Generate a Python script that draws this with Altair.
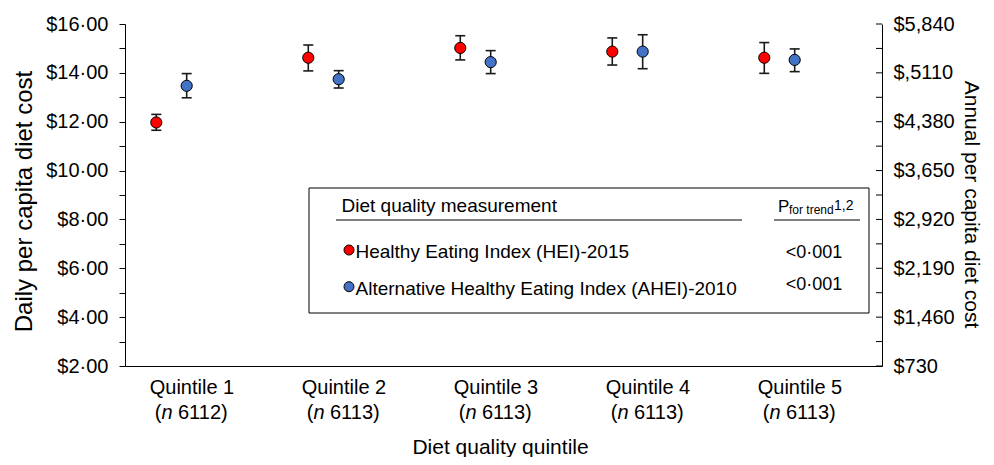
import altair as alt
import pandas as pd

# ---------------- data ----------------
quintiles = [1, 2, 3, 4, 5]
quintile_labels = ["Quintile 1", "Quintile 2", "Quintile 3", "Quintile 4", "Quintile 5"]
quintile_n = ["6112", "6113", "6113", "6113", "6113"]
series_names = ["HEI-2015", "AHEI-2010"]
legend_labels = ["Healthy Eating Index (HEI)-2015",
                 "Alternative Healthy Eating Index (AHEI)-2010"]
p_values = ["<0·001", "<0·001"]

hei_mean = [11.97, 14.62, 15.02, 14.87, 14.62]
hei_lower = [11.65, 14.08, 14.53, 14.32, 13.98]
hei_upper = [12.30, 15.14, 15.52, 15.43, 15.24]

ahei_mean = [13.47, 13.74, 14.44, 14.87, 14.53]
ahei_lower = [12.98, 13.38, 13.97, 14.17, 14.05]
ahei_upper = [13.97, 14.09, 14.91, 15.56, 14.98]

y_ticks = list(range(2, 17))
y_major = list(range(2, 17, 2))

# ---------------- style ----------------
series_colors = ["#FF0000", "#4472C4"]
offsets = {series_names[0]: -0.235, series_names[1]: -0.035}
W, H = 757, 342
FONT = "Liberation Sans"

rows = []
for i, q in enumerate(quintiles):
    rows.append(dict(q=q, series=series_names[0], mean=hei_mean[i],
                     lower=hei_lower[i], upper=hei_upper[i]))
    rows.append(dict(q=q, series=series_names[1], mean=ahei_mean[i],
                     lower=ahei_lower[i], upper=ahei_upper[i]))
df = pd.DataFrame(rows)
df["pos"] = df["q"] + df["series"].map(offsets)

xs = alt.Scale(domain=[0.5592, 5.5395], nice=False, zero=False)
ys = alt.Scale(domain=[2, 16], nice=False, zero=False)

x_axis = alt.Axis(title="Diet quality quintile", labels=False, ticks=False, grid=False,
                  domain=True, domainColor="black", domainWidth=1,
                  titleFontSize=21, titleFontWeight="normal", titleColor="black",
                  titleBaseline="alphabetic", titleX=375, titleY=87)
X = alt.X("pos:Q", scale=xs, axis=x_axis)
XQ = alt.X("q:Q", scale=xs, axis=x_axis)

left_axis = alt.Axis(
    orient="left", values=y_ticks,
    labelExpr="datum.value % 2 == 0 ? '$' + replace(format(datum.value, '.2f'), '.', '·') : ''",
    tickSize=6, tickColor="black", tickWidth=1, domainColor="black", domainWidth=1,
    labelFontSize=20, labelColor="black", labelPadding=11, grid=False,
    title="Daily per capita diet cost", titleFontSize=24, titleFontWeight="normal",
    titleColor="black", titleBaseline="alphabetic", titleX=-94, titleY=177)

right_axis = alt.Axis(
    orient="right", values=y_major,
    labelExpr="datum.value == 14 ? '$,5110' : '$' + format(datum.value * 365, ',')",
    ticks=False, tickSize=0, domainColor="black", domainWidth=1,
    labelFontSize=20, labelColor="black", labelPadding=11, grid=False,
    title="Annual per capita diet cost", titleFontSize=21, titleFontWeight="normal",
    titleColor="black", titleAngle=90, titleBaseline="alphabetic", titleX=82, titleY=180)

base = alt.Chart(df)

err = base.mark_rule(color="#1a1a1a", strokeWidth=1.6).encode(
    x=X, y=alt.Y("lower:Q", scale=ys, axis=None), y2="upper:Q")
cap_lo = base.mark_rule(color="#1a1a1a", strokeWidth=1.6, xOffset=-5, x2Offset=5).encode(
    x=X, x2="pos:Q", y=alt.Y("lower:Q", scale=ys, axis=None))
cap_hi = base.mark_rule(color="#1a1a1a", strokeWidth=1.6, xOffset=-5, x2Offset=5).encode(
    x=X, x2="pos:Q", y=alt.Y("upper:Q", scale=ys, axis=None))

pts = base.mark_circle(size=125, stroke="black", strokeWidth=1, opacity=1).encode(
    x=X, y=alt.Y("mean:Q", scale=ys, axis=left_axis),
    fill=alt.Fill("series:N", scale=alt.Scale(domain=series_names, range=series_colors),
                  legend=None))

tick_df = pd.DataFrame({"v": y_ticks})
right = alt.Chart(tick_df).mark_rule(color="black", strokeWidth=1).encode(
    x=alt.value(W - 6), x2=alt.value(W), y=alt.Y("v:Q", scale=ys, axis=right_axis))

# x category labels (two lines, italic n)
lab_df = pd.DataFrame({"q": quintiles, "label": quintile_labels,
                       "n": [f"{v})" for v in quintile_n]})
lab = alt.Chart(lab_df)
lab1 = lab.mark_text(fontSize=20, baseline="alphabetic", align="center", color="black").encode(
    x=XQ, y=alt.value(H + 28), text="label:N")
lab_open = lab.mark_text(fontSize=20, baseline="alphabetic", align="right", dx=-30.5,
                         color="black").encode(x=XQ, y=alt.value(H + 53), text=alt.value("("))
lab_n = lab.mark_text(fontSize=20, baseline="alphabetic", align="left", dx=-30.5,
                      fontStyle="italic", color="black").encode(
    x=XQ, y=alt.value(H + 53), text=alt.value("n"))
lab_rest = lab.mark_text(fontSize=20, baseline="alphabetic", align="left", dx=-14,
                         color="black").encode(x=XQ, y=alt.value(H + 53), text="n:N")

# ---------------- custom legend box ----------------
one = alt.Chart(pd.DataFrame({"a": [0]}))
box = one.mark_rect(fill="white", stroke="black", strokeWidth=1).encode(
    x=alt.value(184), x2=alt.value(744), y=alt.value(164), y2=alt.value(289))
hdr = one.mark_text(fontSize=19, align="left", baseline="alphabetic", color="black").encode(
    x=alt.value(216.5), y=alt.value(188.3), text=alt.value("Diet quality measurement"))
ul1 = one.mark_rule(color="black", strokeWidth=1).encode(
    x=alt.value(211), x2=alt.value(617), y=alt.value(196))
ul2 = one.mark_rule(color="black", strokeWidth=1).encode(
    x=alt.value(649), x2=alt.value(735), y=alt.value(196))
p_main = one.mark_text(fontSize=17, align="left", baseline="alphabetic", color="black").encode(
    x=alt.value(653), y=alt.value(187.5), text=alt.value("P"))
p_sub = one.mark_text(fontSize=12, align="left", baseline="alphabetic", color="black").encode(
    x=alt.value(664), y=alt.value(190.3), text=alt.value("for trend"))
p_sup = one.mark_text(fontSize=14, align="left", baseline="alphabetic", color="black").encode(
    x=alt.value(709), y=alt.value(186), text=alt.value("1,2"))

legend_layers = [box, hdr, ul1, ul2, p_main, p_sub, p_sup]
row_marker_y = [226, 262.7]
row_text_y = [234.3, 271]
row_p_y = [234.3, 265.5]
for i in range(2):
    legend_layers.append(one.mark_circle(size=100, stroke="black", strokeWidth=1, opacity=1).encode(
        x=alt.value(224), y=alt.value(row_marker_y[i]), fill=alt.value(series_colors[i])))
    legend_layers.append(one.mark_text(fontSize=19, align="left", baseline="alphabetic",
                                       color="black").encode(
        x=alt.value(230.5), y=alt.value(row_text_y[i]), text=alt.value(legend_labels[i])))
    legend_layers.append(one.mark_text(fontSize=18, align="center", baseline="alphabetic",
                                       color="black").encode(
        x=alt.value(689), y=alt.value(row_p_y[i]), text=alt.value(p_values[i])))

chart = alt.layer(
    right, err, cap_lo, cap_hi, pts, lab1, lab_open, lab_n, lab_rest, *legend_layers
).resolve_axis(y="independent").properties(
    width=W, height=H,
    autosize=alt.AutoSizeParams(type="none"),
    padding={"left": 117, "top": 16, "right": 104, "bottom": 91},
    background="white",
).configure(font=FONT).configure_view(strokeWidth=0)

chart.save("out.html", embed_options={"renderer": "svg", "actions": False})
